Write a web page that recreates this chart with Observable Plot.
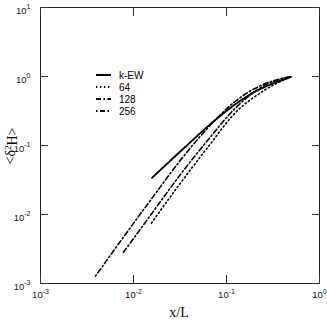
<!DOCTYPE html>
<html><head><meta charset="utf-8">
<script src="https://cdn.jsdelivr.net/npm/d3@7"></script>
<script src="https://cdn.jsdelivr.net/npm/@observablehq/plot@0.6"></script>
<style>html,body{margin:0;padding:0;background:#fff}svg{display:block}</style>
</head><body><div id="chart"></div>
<script>
// ---- data ----
const seriesNames = ["k-EW", "64", "128", "256"];

const xKEW = [0.0158, 0.0271, 0.041, 0.062, 0.086, 0.12, 0.167, 0.232, 0.322, 0.49];
const yKEW = [0.034, 0.067, 0.112, 0.186, 0.27, 0.384, 0.518, 0.66, 0.80, 0.98];

const x64 = [0.0156, 0.031, 0.0625, 0.125, 0.25, 0.5];
const y64 = [0.0075, 0.027, 0.093, 0.30, 0.62, 1.0];

const x128 = [0.0078, 0.0156, 0.031, 0.0625, 0.125, 0.25, 0.5];
const y128 = [0.00283, 0.0102, 0.036, 0.118, 0.35, 0.73, 1.0];

const x256 = [0.0039, 0.0078, 0.0156, 0.031, 0.0625, 0.125, 0.25, 0.5];
const y256 = [0.00128, 0.0047, 0.0168, 0.058, 0.178, 0.44, 0.77, 1.0];

const xTicks = [1e-3, 1e-2, 1e-1, 1];
const yTicks = [1e-3, 1e-2, 1e-1, 1, 10];
const xTitle = "x/L";

// ---- build table ----
const toRows = (name, xs, ys) => xs.map((x, i) => ({series: name, x, y: ys[i]}));
const dKEW = toRows(seriesNames[0], xKEW, yKEW);
const d64 = toRows(seriesNames[1], x64, y64);
const d128 = toRows(seriesNames[2], x128, y128);
const d256 = toRows(seriesNames[3], x256, y256);

const styles = {
  "k-EW": {strokeWidth: 1.9, strokeDasharray: null},
  "64": {strokeWidth: 1.6, strokeDasharray: "1.3,2.7"},
  "128": {strokeWidth: 1.6, strokeDasharray: "5,2.5,1.5,2.5"},
  "256": {strokeWidth: 1.6, strokeDasharray: "1.5,2.5,5,2.5"}
};

const fmt = d => "10^" + Math.round(Math.log10(d));
const lineMark = (data, name) => Plot.line(data, {
  x: "x", y: "y", stroke: "#000", curve: "monotone-x",
  strokeWidth: styles[name].strokeWidth,
  strokeDasharray: styles[name].strokeDasharray
});

const chart = Plot.plot({
  width: 327, height: 321,
  marginLeft: 40, marginRight: 8, marginTop: 7, marginBottom: 38,
  style: {fontFamily: "'Liberation Sans', Arial, sans-serif", background: "#fff", color: "#000"},
  x: {type: "log", domain: [1e-3, 1]},
  y: {type: "log", domain: [1e-3, 10]},
  marks: [
    Plot.frame({stroke: "#222", strokeWidth: 1}),
    Plot.axisX({anchor: "bottom", ticks: xTicks, tickFormat: fmt, tickSize: 8, dy: -8, tickPadding: 8, fontSize: 9.5, label: null, stroke: "#333", fill: "#111"}),
    Plot.axisX({anchor: "top", ticks: xTicks, tickFormat: () => "", tickSize: 8, dy: 8, label: null, stroke: "#333"}),
    Plot.axisY({anchor: "left", ticks: yTicks, tickFormat: fmt, tickSize: 8, dx: 8, tickPadding: 10, fontSize: 9.5, label: null, stroke: "#333", fill: "#111"}),
    Plot.axisY({anchor: "right", ticks: yTicks, tickFormat: () => "", tickSize: 8, dx: -8, label: null, stroke: "#333"}),
    lineMark(dKEW, "k-EW"),
    lineMark(d64, "64"),
    lineMark(d128, "128"),
    lineMark(d256, "256")
  ]
});

const svg = d3.select(chart.tagName === "svg" ? chart : chart.querySelector("svg"));

// superscript exponents on tick labels
svg.selectAll("text").each(function() {
  const t = this.textContent;
  const m = /^10\^(-?\d+)$/.exec(t);
  if (m) {
    this.textContent = "10";
    d3.select(this).append("tspan").attr("dy", "-0.6em").attr("font-size", "7px").text(m[1]);
  }
});
// nudge y tick labels down a bit
svg.selectAll("g[aria-label='y-axis tick label']").each(function() {
  const tr = this.getAttribute("transform") || "";
  this.setAttribute("transform", tr + " translate(0,3)");
});

// axis titles
svg.append("text")
  .attr("x", 179).attr("y", 317)
  .attr("text-anchor", "middle")
  .attr("font-family", "'Liberation Serif', 'Times New Roman', serif")
  .attr("font-size", "14px").attr("fill", "#000")
  .text(xTitle);

const yt = svg.append("text")
  .attr("transform", "translate(15,146) rotate(-90)")
  .attr("text-anchor", "middle")
  .attr("font-family", "'Liberation Serif', 'Times New Roman', serif")
  .attr("font-size", "14px").attr("fill", "#000");
yt.append("tspan").text("<δ");
yt.append("tspan").attr("dy", "-0.45em").attr("font-size", "9px").text("2");
yt.append("tspan").attr("dy", "0.45em").text("H>");

// legend
const leg = svg.append("g").attr("text-anchor", "start");
seriesNames.forEach((name, i) => {
  const y = 75 + i * 12;
  leg.append("line").attr("x1", 96).attr("x2", 111).attr("y1", y).attr("y2", y)
    .attr("stroke", "#000").attr("stroke-width", styles[name].strokeWidth + 0.2)
    .attr("stroke-dasharray", styles[name].strokeDasharray);
  leg.append("text").attr("x", 119).attr("y", y).attr("dy", "0.35em")
    .attr("text-anchor", "start")
    .attr("font-size", "10px").attr("fill", "#000").text(name);
});

document.getElementById("chart").appendChild(chart);
</script>
</body></html>
